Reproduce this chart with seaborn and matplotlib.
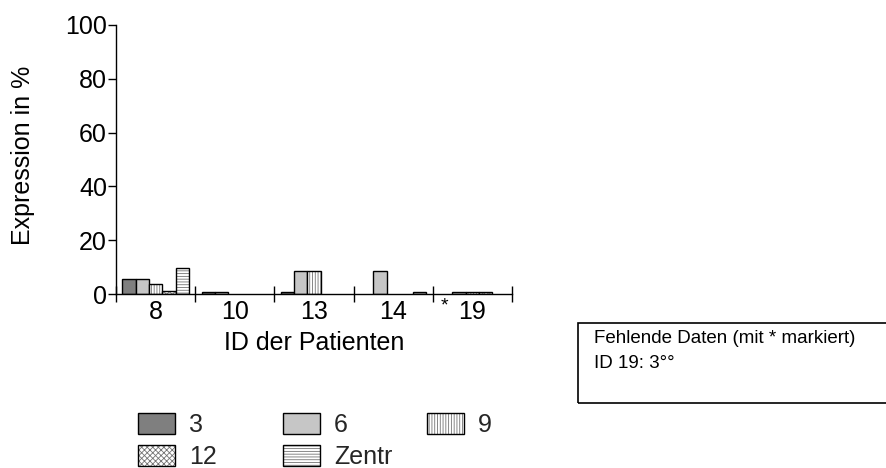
import numpy as np
import pandas as pd
import matplotlib
matplotlib.use("Agg")
import matplotlib.pyplot as plt
from matplotlib.patches import Patch, Rectangle
import seaborn as sns

# Expression per patient and time point (NaN = no bar)
patients = ["8", "10", "13", "14", "19"]
series = ["3", "6", "9", "12", "Zentr"]
expr_3 = [5.5, 0.9, 0.9, np.nan, np.nan]
expr_6 = [5.5, 0.9, 8.4, 8.4, 0.9]
expr_9 = [3.9, np.nan, 8.4, np.nan, 0.9]
expr_12 = [1.0, np.nan, np.nan, np.nan, 0.9]
expr_zentr = [9.8, np.nan, np.nan, 0.9, np.nan]
y_ticks = [0, 20, 40, 60, 80, 100]
marked_patient = "19"
note_title = "Fehlende Daten (mit * markiert)"
note_detail = "ID 19: 3°°"

sns.set_theme(style="white")
plt.rcParams["font.family"] = ["Liberation Sans", "DejaVu Sans"]
plt.rcParams["hatch.linewidth"] = 0.6

values = {"3": expr_3, "6": expr_6, "9": expr_9, "12": expr_12, "Zentr": expr_zentr}
rows = []
for s in series:
    for p, v in zip(patients, values[s]):
        rows.append({"ID": p, "series": s, "value": v})
df = pd.DataFrame(rows).dropna()

faces = {"3": "#7f7f7f", "6": "#c6c6c6", "9": "white", "12": "white", "Zentr": "white"}
hatches = {"3": "", "6": "", "9": "||||||", "12": "xxxxxx", "Zentr": "------"}
hatch_gray = (0.45, 0.45, 0.45, 1.0)

W, H = 886, 468
fig = plt.figure(figsize=(W / 100, H / 100), dpi=100)
ax = fig.add_axes([116 / W, 1 - 294 / H, 396 / W, 269 / H])

sns.barplot(data=df, x="ID", y="value", hue="series", order=patients,
            hue_order=series, palette=faces, width=0.84, saturation=1,
            edgecolor="black", linewidth=1.0, errorbar=None, legend=False, ax=ax)


def style_patch(p, s):
    p.set_hatch(hatches[s])
    if hatches[s]:
        if hasattr(p, "set_hatchcolor"):
            p.set_hatchcolor(hatch_gray)
        else:
            p._hatch_color = hatch_gray


for cont, s in zip(ax.containers, series):
    for bar in cont:
        style_patch(bar, s)

ax.set_ylim(0, 100)
ax.set_xlim(-0.5, len(patients) - 0.5)
ax.set_yticks(y_ticks)
ax.set_yticklabels([str(t) for t in y_ticks])
ax.set_xticks(np.arange(-0.5, len(patients), 1.0))
ax.set_xticklabels([])
ax.set_xticks(np.arange(len(patients)), minor=True)
ax.set_xticklabels(patients, minor=True)
ax.tick_params(axis="x", which="major", direction="inout", length=12, width=1.0,
               color="black", labelbottom=False, bottom=True)
ax.tick_params(axis="x", which="minor", length=0, pad=4.5, labelsize=18,
               labelcolor="black", bottom=True)
ax.tick_params(axis="y", direction="out", length=6, width=1.0, pad=0.5,
               labelsize=18, color="black", labelcolor="black", left=True)

for side in ("top", "right"):
    ax.spines[side].set_visible(False)
for side in ("left", "bottom"):
    ax.spines[side].set_color("black")
    ax.spines[side].set_linewidth(1.0)
ax.set_facecolor("white")
ax.grid(False)

ax.set_xlabel("ID der Patienten", fontsize=18, color="black")
ax.set_ylabel("Expression in %", fontsize=18, color="black")
ax.xaxis.set_label_coords(0.5, -0.138)
ax.yaxis.set_label_coords(-0.205, 0.517)

# asterisk marking the patient with missing data
fig.text(444 / W, 1 - 306 / H, "*", ha="center", va="center", fontsize=14, color="black")


def handle(s):
    p = Patch(facecolor=faces[s], edgecolor="black", linewidth=1.0, hatch=hatches[s])
    if hatches[s]:
        if hasattr(p, "set_hatchcolor"):
            p.set_hatchcolor(hatch_gray)
        else:
            p._hatch_color = hatch_gray
    return p


columns = [(["3", "12"], 138), (["6", "Zentr"], 283), (["9"], 427)]
for labels, x0 in columns:
    fig.legend([handle(s) for s in labels], labels, loc="upper left",
               bbox_to_anchor=(x0 / W, 1 - 413 / H), frameon=False,
               borderpad=0, borderaxespad=0, handlelength=1.48,
               handleheight=0.92, handletextpad=0.56, labelspacing=0.32,
               fontsize=18)

# note box about missing data
fig.add_artist(Rectangle((578 / W, 1 - 403 / H), 0.5, 80 / H, transform=fig.transFigure,
                         fill=False, edgecolor="black", linewidth=1.2, clip_on=False))
fig.text(594 / W, 1 - 343 / H, note_title, fontsize=13.5, va="baseline", color="black")
fig.text(594 / W, 1 - 368 / H, note_detail, fontsize=13.5, va="baseline", color="black")

fig.savefig("out.png", dpi=100, facecolor="white")
